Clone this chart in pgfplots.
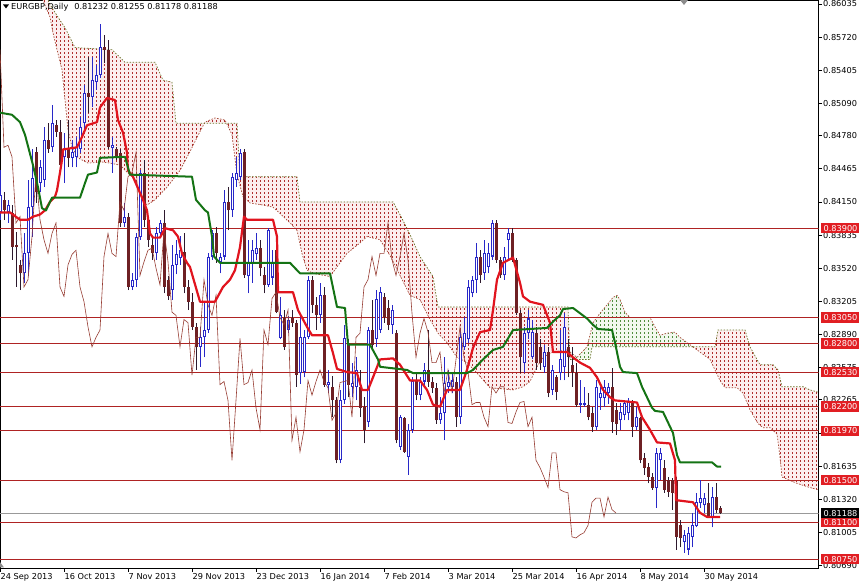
\documentclass[border=0pt]{standalone}
\usepackage{fontspec}
\setmainfont{DejaVu Sans}
\usepackage{pgfplots}
\pgfplotsset{compat=1.18}
\usepackage{pgfplotstable}
\usepgfplotslibrary{fillbetween}
\usetikzlibrary{patterns}

\pgfdeclarepatternformonly{vdots}{\pgfqpoint{-0.5pt}{-0.5pt}}{\pgfqpoint{4.5pt}{4.5pt}}{\pgfqpoint{4pt}{4pt}}{%
  \pgfpathrectangle{\pgfqpoint{0pt}{0pt}}{\pgfqpoint{1pt}{1.7pt}}\pgfusepath{fill}}

\definecolor{bullc}{RGB}{40,40,200}
\definecolor{bearc}{RGB}{110,32,36}
\definecolor{bearw}{RGB}{45,25,45}
\definecolor{tenkanc}{RGB}{225,20,30}
\definecolor{kijunc}{RGB}{20,115,20}
\definecolor{chikouc}{RGB}{150,60,50}
\definecolor{spanAcol}{RGB}{165,75,55}
\definecolor{spanBcol}{RGB}{105,115,40}
\definecolor{cloudr}{RGB}{175,45,45}
\definecolor{cloudg}{RGB}{80,140,60}
\definecolor{tintr}{RGB}{252,238,238}
\definecolor{tintg}{RGB}{242,248,238}
\definecolor{lvl}{RGB}{175,35,35}
\definecolor{lblred}{RGB}{225,30,35}
\newcommand{\tf}{\fontsize{8.2}{9}\selectfont}

% bullish candles (close above open)
\pgfplotstableread{
i o h l c
0 0.8405 0.8445 0.8398 0.8422
2 0.8405 0.8417 0.8395 0.8412
6 0.8347 0.8385 0.8338 0.8366
7 0.8366 0.8436 0.8344 0.8410
8 0.8410 0.8465 0.8382 0.8438
10 0.8433 0.8455 0.8424 0.8448
11 0.8436 0.8486 0.8429 0.8474
13 0.8467 0.8507 0.8463 0.8490
16 0.8458 0.8481 0.8433 0.8465
18 0.8457 0.8474 0.8448 0.8463
19 0.8458 0.8477 0.8448 0.8467
20 0.8465 0.8496 0.8462 0.8486
21 0.8490 0.8526 0.8484 0.8519
23 0.8515 0.8553 0.8505 0.8531
24 0.8529 0.8545 0.8522 0.8536
25 0.8536 0.8584 0.8533 0.8563
28 0.8466 0.8477 0.8443 0.8469
31 0.8395 0.8414 0.8391 0.8401
33 0.8334 0.8347 0.8331 0.8341
34 0.8341 0.8385 0.8334 0.8382
35 0.8382 0.8445 0.8379 0.8443
39 0.8366 0.8391 0.8360 0.8385
40 0.8385 0.8398 0.8382 0.8395
43 0.8331 0.8374 0.8322 0.8355
44 0.8355 0.8379 0.8346 0.8365
45 0.8362 0.8383 0.8355 0.8369
50 0.8277 0.8296 0.8258 0.8286
51 0.8286 0.8319 0.8267 0.8293
52 0.8293 0.8366 0.8290 0.8363
53 0.8363 0.8388 0.8360 0.8385
55 0.8358 0.8366 0.8347 0.8363
56 0.8363 0.8426 0.8360 0.8415
58 0.8407 0.8443 0.8401 0.8439
59 0.8436 0.8458 0.8429 0.8443
60 0.8439 0.8465 0.8436 0.8462
62 0.8344 0.8379 0.8328 0.8358
63 0.8357 0.8379 0.8338 0.8369
64 0.8365 0.8385 0.8360 0.8371
67 0.8336 0.8390 0.8334 0.8388
68 0.8343 0.8369 0.8336 0.8358
70 0.8285 0.8324 0.8284 0.8307
72 0.8293 0.8306 0.8290 0.8303
75 0.8252 0.8309 0.8242 0.8286
76 0.8253 0.8293 0.8248 0.8286
77 0.8286 0.8344 0.8284 0.8341
80 0.8307 0.8338 0.8300 0.8326
82 0.8241 0.8255 0.8233 0.8244
85 0.8169 0.8236 0.8166 0.8226
86 0.8226 0.8298 0.8223 0.8285
88 0.8239 0.8262 0.8229 0.8243
89 0.8239 0.8267 0.8226 0.8255
92 0.8205 0.8296 0.8201 0.8293
94 0.8284 0.8331 0.8277 0.8323
95 0.8293 0.8334 0.8290 0.8329
98 0.8298 0.8317 0.8289 0.8312
100 0.8182 0.8212 0.8179 0.8210
102 0.8172 0.8204 0.8155 0.8198
103 0.8198 0.8248 0.8195 0.8245
105 0.8231 0.8248 0.8226 0.8244
106 0.8244 0.8262 0.8239 0.8255
110 0.8207 0.8229 0.8204 0.8214
111 0.8214 0.8267 0.8188 0.8243
112 0.8239 0.8255 0.8233 0.8244
113 0.8239 0.8252 0.8233 0.8245
115 0.8210 0.8293 0.8204 0.8286
116 0.8277 0.8305 0.8274 0.8290
117 0.8284 0.8341 0.8281 0.8334
118 0.8328 0.8344 0.8324 0.8341
119 0.8341 0.8376 0.8328 0.8363
121 0.8347 0.8379 0.8341 0.8366
122 0.8353 0.8376 0.8347 0.8366
123 0.8363 0.8398 0.8360 0.8395
126 0.8345 0.8372 0.8341 0.8363
127 0.8379 0.8390 0.8360 0.8385
131 0.8262 0.8296 0.8252 0.8290
132 0.8290 0.8312 0.8284 0.8304
133 0.8267 0.8303 0.8265 0.8291
136 0.8258 0.8279 0.8252 0.8272
138 0.8236 0.8260 0.8231 0.8255
140 0.8252 0.8293 0.8245 0.8265
141 0.8258 0.8309 0.8245 0.8296
145 0.8222 0.8245 0.8214 0.8224
146 0.8222 0.8239 0.8220 0.8224
149 0.8201 0.8245 0.8198 0.8239
150 0.8228 0.8239 0.8217 0.8233
151 0.8228 0.8245 0.8220 0.8239
152 0.8233 0.8243 0.8223 0.8239
155 0.8207 0.8224 0.8198 0.8215
156 0.8212 0.8226 0.8207 0.8224
157 0.8214 0.8228 0.8207 0.8225
159 0.8201 0.8220 0.8198 0.8210
164 0.8143 0.8181 0.8124 0.8176
165 0.8169 0.8181 0.8150 0.8176
171 0.8091 0.8103 0.8081 0.8098
172 0.8084 0.8105 0.8079 0.8100
173 0.8096 0.8119 0.8086 0.8107
174 0.8106 0.8138 0.8105 0.8129
175 0.8128 0.8150 0.8124 0.8133
176 0.8126 0.8138 0.8119 0.8133
178 0.8115 0.8144 0.8105 0.8134
}\bull

% bearish candles (close below open)
\pgfplotstableread{
i o h l c
1 0.8417 0.8424 0.8398 0.8407
3 0.8404 0.8412 0.8360 0.8372
4 0.8374 0.8386 0.8334 0.8372
5 0.8355 0.8360 0.8331 0.8347
9 0.8463 0.8467 0.8414 0.8424
12 0.8474 0.8490 0.8462 0.8465
14 0.8488 0.8493 0.8477 0.8482
15 0.8482 0.8493 0.8445 0.8450
17 0.8465 0.8493 0.8448 0.8457
22 0.8519 0.8553 0.8500 0.8515
26 0.8563 0.8574 0.8547 0.8560
27 0.8560 0.8569 0.8465 0.8467
29 0.8465 0.8467 0.8455 0.8458
30 0.8462 0.8465 0.8391 0.8395
32 0.8401 0.8404 0.8331 0.8334
36 0.8443 0.8455 0.8391 0.8398
37 0.8398 0.8401 0.8372 0.8379
38 0.8374 0.8382 0.8360 0.8366
41 0.8395 0.8407 0.8328 0.8334
42 0.8341 0.8344 0.8322 0.8325
46 0.8367 0.8385 0.8328 0.8334
47 0.8334 0.8341 0.8312 0.8320
48 0.8320 0.8328 0.8293 0.8296
49 0.8296 0.8300 0.8255 0.8277
54 0.8385 0.8391 0.8357 0.8366
57 0.8415 0.8429 0.8388 0.8407
61 0.8463 0.8465 0.8343 0.8345
65 0.8371 0.8379 0.8344 0.8352
66 0.8345 0.8353 0.8328 0.8336
69 0.8369 0.8382 0.8309 0.8310
71 0.8304 0.8312 0.8274 0.8277
73 0.8304 0.8312 0.8296 0.8300
74 0.8300 0.8303 0.8239 0.8250
78 0.8341 0.8344 0.8309 0.8317
79 0.8317 0.8324 0.8293 0.8307
81 0.8326 0.8334 0.8239 0.8241
83 0.8239 0.8249 0.8210 0.8226
84 0.8226 0.8229 0.8166 0.8169
87 0.8281 0.8284 0.8229 0.8241
90 0.8239 0.8255 0.8210 0.8219
91 0.8220 0.8229 0.8185 0.8198
93 0.8293 0.8322 0.8274 0.8279
96 0.8324 0.8328 0.8300 0.8305
97 0.8314 0.8322 0.8293 0.8298
99 0.8290 0.8293 0.8185 0.8188
101 0.8209 0.8210 0.8176 0.8177
104 0.8245 0.8252 0.8226 0.8231
107 0.8255 0.8293 0.8239 0.8244
108 0.8244 0.8248 0.8233 0.8238
109 0.8238 0.8243 0.8204 0.8207
114 0.8244 0.8248 0.8201 0.8210
120 0.8363 0.8369 0.8338 0.8345
124 0.8395 0.8398 0.8357 0.8360
125 0.8360 0.8363 0.8343 0.8345
128 0.8385 0.8390 0.8358 0.8360
129 0.8360 0.8362 0.8307 0.8309
130 0.8309 0.8312 0.8252 0.8267
134 0.8290 0.8296 0.8255 0.8262
135 0.8277 0.8284 0.8255 0.8262
137 0.8272 0.8277 0.8229 0.8233
139 0.8248 0.8250 0.8226 0.8234
142 0.8277 0.8284 0.8248 0.8267
143 0.8260 0.8277 0.8239 0.8253
144 0.8252 0.8262 0.8220 0.8222
147 0.8222 0.8233 0.8207 0.8210
148 0.8214 0.8220 0.8196 0.8201
153 0.8239 0.8257 0.8195 0.8205
154 0.8217 0.8224 0.8193 0.8204
158 0.8224 0.8226 0.8191 0.8201
160 0.8209 0.8210 0.8166 0.8169
161 0.8171 0.8176 0.8155 0.8162
162 0.8163 0.8166 0.8147 0.8153
163 0.8153 0.8157 0.8141 0.8143
166 0.8162 0.8169 0.8138 0.8141
167 0.8150 0.8153 0.8134 0.8139
168 0.8150 0.8152 0.8122 0.8138
169 0.8150 0.8153 0.8084 0.8096
170 0.8107 0.8112 0.8086 0.8095
177 0.8128 0.8147 0.8114 0.8115
179 0.8134 0.8147 0.8119 0.8122
180 0.81232 0.81255 0.81178 0.81188
}\bear

% closes, plotted 26 bars back (Chikou span)
\pgfplotstableread{
i c
26 0.8560
27 0.8467
28 0.8469
29 0.8458
30 0.8395
31 0.8401
32 0.8334
33 0.8341
34 0.8382
35 0.8443
36 0.8398
37 0.8379
38 0.8366
39 0.8385
40 0.8395
41 0.8334
42 0.8325
43 0.8355
44 0.8365
45 0.8369
46 0.8334
47 0.8320
48 0.8296
49 0.8277
50 0.8286
51 0.8293
52 0.8363
53 0.8385
54 0.8366
55 0.8363
56 0.8415
57 0.8407
58 0.8439
59 0.8443
60 0.8462
61 0.8345
62 0.8358
63 0.8369
64 0.8371
65 0.8352
66 0.8336
67 0.8388
68 0.8358
69 0.8310
70 0.8307
71 0.8277
72 0.8303
73 0.8300
74 0.8250
75 0.8286
76 0.8286
77 0.8341
78 0.8317
79 0.8307
80 0.8326
81 0.8241
82 0.8244
83 0.8226
84 0.8169
85 0.8226
86 0.8285
87 0.8241
88 0.8243
89 0.8255
90 0.8219
91 0.8198
92 0.8293
93 0.8279
94 0.8323
95 0.8329
96 0.8305
97 0.8298
98 0.8312
99 0.8188
100 0.8210
101 0.8177
102 0.8198
103 0.8245
104 0.8231
105 0.8244
106 0.8255
107 0.8244
108 0.8238
109 0.8207
110 0.8214
111 0.8243
112 0.8244
113 0.8245
114 0.8210
115 0.8286
116 0.8290
117 0.8334
118 0.8341
119 0.8363
120 0.8345
121 0.8366
122 0.8366
123 0.8395
124 0.8360
125 0.8345
126 0.8363
127 0.8385
128 0.8360
129 0.8309
130 0.8267
131 0.8290
132 0.8304
133 0.8291
134 0.8262
135 0.8262
136 0.8272
137 0.8233
138 0.8255
139 0.8234
140 0.8265
141 0.8296
142 0.8267
143 0.8253
144 0.8222
145 0.8224
146 0.8224
147 0.8210
148 0.8201
149 0.8239
150 0.8233
151 0.8239
152 0.8239
153 0.8205
154 0.8204
155 0.8215
156 0.8224
157 0.8225
158 0.8201
159 0.8210
160 0.8169
161 0.8162
162 0.8153
163 0.8143
164 0.8176
165 0.8176
166 0.8141
167 0.8139
168 0.8138
169 0.8096
170 0.8095
171 0.8098
172 0.8100
173 0.8107
174 0.8129
175 0.8133
176 0.8133
177 0.8115
178 0.8134
179 0.8122
180 0.81188
}\closes

\pgfplotstableread{
x y
0 0.8405
2.5 0.8405
5 0.8398
7 0.8398
8.25 0.8401
10 0.8403
11.25 0.8407
12.5 0.8415
13.75 0.8420
14.25 0.8426
15 0.8443
15.5 0.8455
15.75 0.8465
17.5 0.8466
19.25 0.8467
20.5 0.8477
21.75 0.8488
24.25 0.8491
25 0.8505
26.75 0.8514
28.75 0.8512
29.5 0.8493
30.75 0.8481
31.75 0.8462
32 0.8445
33.25 0.8439
35.75 0.8417
36.75 0.8407
37.5 0.8385
38.25 0.8381
40 0.8381
41.25 0.8390
43.25 0.8388
44.5 0.8382
45.5 0.8366
46.75 0.8357
47.5 0.8353
50 0.8320
53.75 0.8320
55.75 0.8334
57.5 0.8341
58.75 0.8350
60 0.8372
61 0.8401
61.75 0.8398
68.25 0.8398
69.25 0.8382
69.5 0.8329
73.25 0.8329
74.5 0.8312
76.75 0.8296
78 0.8288
82 0.8288
83.25 0.8271
84.25 0.8256
86.75 0.8253
89.25 0.8252
90.5 0.8236
92 0.8236
93.25 0.8248
95 0.8265
98.25 0.8266
100 0.8260
102.5 0.8245
105 0.8245
106.75 0.8236
108.25 0.8222
110 0.8220
111.75 0.8236
115 0.8236
116.75 0.8255
118.25 0.8276
120 0.8291
122.5 0.8293
123.25 0.8312
124.25 0.8341
125.75 0.8357
128.25 0.8362
130 0.8338
130.75 0.8325
132.5 0.8320
135.75 0.8317
137.5 0.8300
138.25 0.8272
141.75 0.8272
143.25 0.8267
145 0.8262
147.5 0.8257
149.25 0.8248
150.75 0.8236
152.5 0.8229
153.75 0.8226
159.25 0.8224
160.5 0.8210
162.5 0.8198
164.25 0.8186
167.5 0.8185
168.75 0.8169
169 0.8131
173.25 0.8129
175 0.8119
176.75 0.8115
180 0.8115
}\tenkanT

\pgfplotstableread{
x y
0 0.8500
3 0.8498
5 0.8491
6.25 0.8479
8.25 0.8450
9.5 0.8429
10.5 0.8409
11.5 0.8407
13 0.8419
20 0.8419
21.25 0.8433
22 0.8441
24.25 0.8443
25 0.8457
31.25 0.8458
32.5 0.8441
48 0.8439
49 0.8417
51.25 0.8407
52 0.8405
53 0.8382
53.5 0.8363
55 0.8357
72.5 0.8357
75 0.8347
82.5 0.8347
84.25 0.8315
86.25 0.8314
87 0.8279
92.5 0.8279
94.5 0.8265
95 0.8258
101.75 0.8255
103.25 0.8252
116.75 0.8252
118.25 0.8255
120.75 0.8265
123.25 0.8274
125.75 0.8277
128.25 0.8293
136.75 0.8295
138.25 0.8301
140 0.8307
140.75 0.8313
143.25 0.8314
145 0.8309
146.75 0.8304
148.25 0.8298
149.5 0.8294
153 0.8293
153.75 0.8281
155 0.8258
155.75 0.8253
159.25 0.8252
160.5 0.8239
161.75 0.8229
163 0.8219
163.75 0.8216
165.75 0.8215
167.5 0.8201
168.25 0.8195
169.25 0.8174
170 0.8167
178 0.8167
179.25 0.8163
180.25 0.8163
}\kijunT

% Senkou span A, in three pieces (red / green / red cloud)
\pgfplotstableread{
x y
9 0.8636
10.75 0.8607
12.5 0.8591
13.25 0.8576
14.25 0.8560
15.5 0.8541
16.25 0.8512
17 0.8484
18 0.8467
19.5 0.8457
22 0.8452
25.5 0.8453
27.5 0.8452
30 0.8450
33.75 0.8436
36.75 0.8412
38.75 0.8417
41.75 0.8429
45 0.8445
47.5 0.8463
50 0.8482
51.25 0.8491
53.75 0.8495
56.25 0.8493
58 0.8479
59.25 0.8441
60.75 0.8420
62.5 0.8414
65.75 0.8412
68.25 0.8410
70 0.8404
72.5 0.8395
74.25 0.8388
75.5 0.8366
76.75 0.8350
78.25 0.8347
82.5 0.8344
86.75 0.8366
90 0.8376
91.75 0.8382
95 0.8379
97.5 0.8364
100 0.8345
102.5 0.8326
105 0.8322
107.5 0.8303
109.5 0.8290
111.75 0.8281
114.25 0.8267
116.75 0.8262
119.25 0.8252
122.5 0.8238
128.25 0.8236
130.75 0.8239
132.5 0.8244
134.25 0.8258
135.75 0.8267
138.25 0.8272
141.75 0.8274
142.5 0.8272
}\spanAa
\pgfplotstableread{
x y
142.5 0.8272
144.25 0.8267
146.75 0.8277
148.25 0.8300
150 0.8309
151.75 0.8317
153.25 0.8324
154.25 0.8326
155 0.8322
156.25 0.8310
157.5 0.8305
162.5 0.8305
163.75 0.8296
165 0.8288
166.75 0.8290
168.75 0.8291
170 0.8286
172.5 0.8279
173.2 0.8277
}\spanAb
\pgfplotstableread{
x y
173.2 0.8277
175 0.8272
177.5 0.8265
180 0.8245
181.25 0.8238
184.25 0.8238
185.75 0.8233
187.5 0.8217
189.5 0.8204
190.75 0.8200
192.5 0.8200
194.25 0.8194
195 0.8172
195.5 0.8153
199.25 0.8147
202.5 0.8143
204.4 0.8141
}\spanAc

% Senkou span B, same three pieces
\pgfplotstableread{
x y
9 0.8636
12.5 0.8603
15 0.8588
16.25 0.8581
18.75 0.8562
28 0.8560
31.25 0.8548
38.75 0.8548
40.75 0.8531
43 0.8529
44 0.8490
59.25 0.8490
60 0.8439
74.25 0.8439
75 0.8415
98.25 0.8415
100 0.8403
102.5 0.8384
105 0.8363
108.25 0.8344
109.5 0.8315
142 0.8315
142.5 0.8265
}\spanBa
\pgfplotstableread{
x y
142.5 0.8265
147.5 0.8265
148 0.8277
173.2 0.8277
}\spanBb
\pgfplotstableread{
x y
173.2 0.8277
178.75 0.8277
179.5 0.8293
186.25 0.8293
187.5 0.8277
189.25 0.8265
190 0.8260
193.25 0.8260
194.5 0.8255
195.5 0.8239
200.75 0.8239
202.5 0.8236
204.4 0.8234
}\spanBc

\begin{document}
\begin{tikzpicture}
\begin{axis}[
  at={(0,0)}, anchor=south west,
  scale only axis, width=818.5pt, height=568pt,
  xmin=0, xmax=204.625, ymin=0.80664, ymax=0.86073,
  enlargelimits=false,
  axis line style={black, line width=0.8pt},
  tick align=outside, major tick length=3.5pt,
  tick style={black, line width=0.8pt},
  xtick pos=left, ytick pos=right,
  xtick={0,16,32,48,64,80,96,112,128,144,160,176},
  xticklabels={24 Sep 2013,16 Oct 2013,7 Nov 2013,29 Nov 2013,23 Dec 2013,16 Jan 2014,7 Feb 2014,3 Mar 2014,25 Mar 2014,16 Apr 2014,8 May 2014,30 May 2014},
  xticklabel style={font=\tf, anchor=north west, inner sep=0pt, xshift=0.5pt, yshift=-1.5pt},
  ytick={0.86035,0.85720,0.85405,0.85090,0.84780,0.84465,0.84150,0.83835,0.83520,0.83205,0.82890,0.82575,0.82265,0.81950,0.81635,0.81320,0.81005,0.80690},
  yticklabels={},
]
% cloud
\addplot[draw=none, name path=A1] table {\spanAa};
\addplot[draw=none, name path=B1] table {\spanBa};
\addplot[draw=none, name path=A2] table {\spanAb};
\addplot[draw=none, name path=B2] table {\spanBb};
\addplot[draw=none, name path=A3] table {\spanAc};
\addplot[draw=none, name path=B3] table {\spanBc};
\addplot[fill=tintr, draw=none] fill between[of=A1 and B1];
\addplot[fill=tintg, draw=none] fill between[of=A2 and B2];
\addplot[fill=tintr, draw=none] fill between[of=A3 and B3];
\addplot[pattern=vdots, pattern color=cloudr, draw=none] fill between[of=A1 and B1];
\addplot[pattern=vdots, pattern color=cloudg, draw=none] fill between[of=A2 and B2];
\addplot[pattern=vdots, pattern color=cloudr, draw=none] fill between[of=A3 and B3];
\addplot[spanAcol, line width=0.7pt, dash pattern=on 1.5pt off 1.5pt] table {\spanAa};
\addplot[spanAcol, line width=0.7pt, dash pattern=on 1.5pt off 1.5pt] table {\spanAb};
\addplot[spanAcol, line width=0.7pt, dash pattern=on 1.5pt off 1.5pt] table {\spanAc};
\addplot[spanBcol, line width=0.7pt, dash pattern=on 1.5pt off 1.5pt] table {\spanBa};
\addplot[spanBcol, line width=0.7pt, dash pattern=on 1.5pt off 1.5pt] table {\spanBb};
\addplot[spanBcol, line width=0.7pt, dash pattern=on 1.5pt off 1.5pt] table {\spanBc};
% levels
\pgfplotsinvokeforeach{0.83900,0.83050,0.82800,0.82530,0.82200,0.81970,0.81500,0.81100,0.80750}{
  \addplot[lvl, line width=0.9pt] coordinates {(0,#1) (204.625,#1)};
}
\addplot[black!40, line width=0.8pt] coordinates {(0,0.81188) (204.625,0.81188)};
% candle wicks
\addplot[draw=none, mark=none,
  error bars/.cd, y dir=plus, y explicit, error mark=none, error bar style={draw=bullc, solid, line width=1pt}]
  table[x=i, y=l, y error plus expr=\thisrow{h}-\thisrow{l}] {\bull};
\addplot[draw=none, mark=none,
  error bars/.cd, y dir=plus, y explicit, error mark=none, error bar style={draw=bearw, solid, line width=1pt}]
  table[x=i, y=l, y error plus expr=\thisrow{h}-\thisrow{l}] {\bear};
% candle bodies
\addplot[draw=none, mark=none,
  error bars/.cd, y dir=plus, y explicit, error mark=none, error bar style={draw=bullc, solid, line width=3pt}]
  table[x=i, y=o, y error plus expr=\thisrow{c}-\thisrow{o}] {\bull};
\addplot[draw=none, mark=none,
  error bars/.cd, y dir=plus, y explicit, error mark=none, error bar style={draw=white, solid, line width=1pt}]
  table[x=i, y expr=\thisrow{o}+0.0001, y error plus expr={max(\thisrow{c}-\thisrow{o}-0.0002,0)}] {\bull};
\addplot[draw=none, mark=none,
  error bars/.cd, y dir=plus, y explicit, error mark=none, error bar style={draw=bearc, solid, line width=3pt}]
  table[x=i, y=c, y error plus expr=\thisrow{o}-\thisrow{c}] {\bear};
% Ichimoku lines
\addplot[chikouc, line width=0.6pt] table[x expr=\thisrow{i}-26, y=c] {\closes};
\addplot[tenkanc, line width=2.2pt, line join=round] table {\tenkanT};
\addplot[kijunc, line width=2pt, line join=round] table {\kijunT};
\end{axis}
% right price scale (positions in pt: (price-0.80664)*10501); 0.81950 is fully hidden by the 0.81970 label
\foreach \v in {0.86035,0.85720,0.85405,0.85090,0.84780,0.84465,0.84150,0.83835,0.83520,0.83205,0.82890,0.82575,0.82265,0.81635,0.81320,0.81005,0.80690}{
  \pgfmathsetmacro\yy{(\v-0.80664)*10501}
  \node[anchor=west, font=\tf, inner sep=0pt] at (823pt,\yy pt) {\v};
}
\foreach \v in {0.83900,0.83050,0.82800,0.82530,0.82200,0.81970,0.81500,0.81100,0.80750}{
  \pgfmathsetmacro\yy{(\v-0.80664)*10501}
  \node[anchor=west, fill=lblred, text=white, font=\tf, inner xsep=1pt, inner ysep=0pt, minimum height=10.5pt, minimum width=40pt] at (820.3pt,\yy pt) {\v};
}
\pgfmathsetmacro\yy{(0.81188-0.80664)*10501}
\node[anchor=west, fill=black, text=white, font=\tf, inner xsep=1pt, inner ysep=0pt, minimum height=10.5pt, minimum width=40pt] at (820.3pt,\yy pt) {0.81188};
\fill[black] (3pt,563.5pt) -- (9pt,563.5pt) -- (6pt,559.5pt) -- cycle;
\node[anchor=base west, font=\tf, inner sep=0pt] at (11pt,558.5pt) {EURGBP,Daily\hspace{6pt}0.81232 0.81255 0.81178 0.81188};
\fill[black!45] (680pt,568pt) -- (688pt,568pt) -- (684pt,563pt) -- cycle;
\fill[black!45] (0pt,0.5pt) -- (0pt,6pt) -- (4pt,0.5pt) -- cycle;
\pgfresetboundingbox
\path[use as bounding box] (0,-18pt) rectangle (859pt,568pt);
\end{tikzpicture}
\end{document}
